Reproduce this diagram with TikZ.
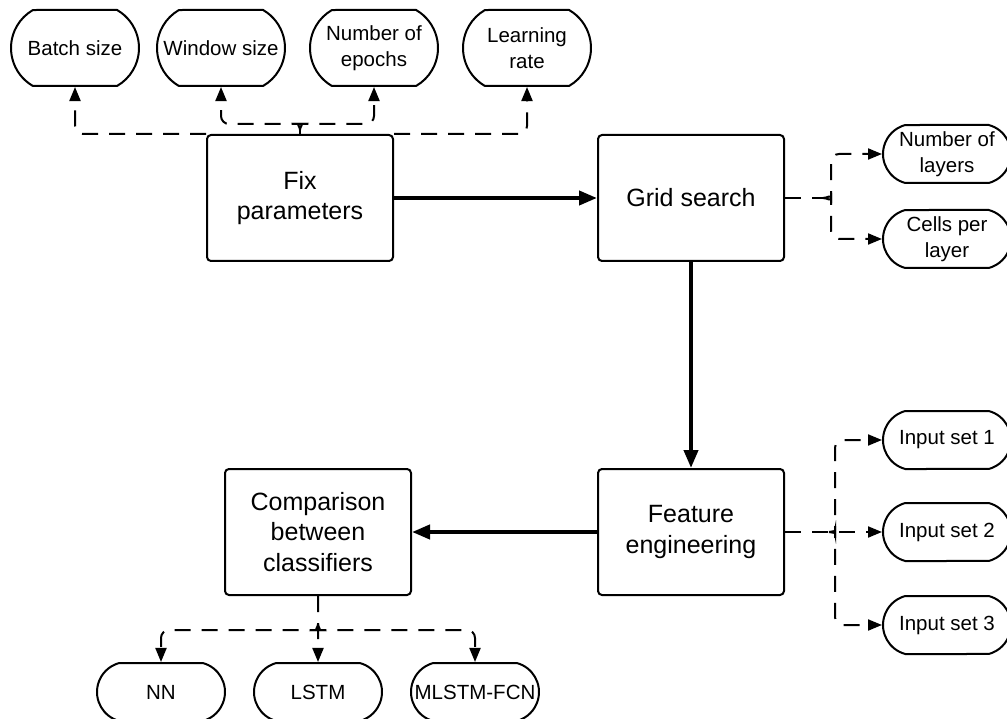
\documentclass[tikz,border=0pt]{standalone}
\usepackage{fontspec}
\setmainfont{Liberation Sans}
\usetikzlibrary{positioning, arrows.meta, shapes.misc}

\tikzset{
    stage/.style={draw, rectangle, rounded corners=4pt, line width=2pt,
        minimum width=186pt, minimum height=126pt, inner sep=2pt,
        align=center, font=\fontsize{25}{30.5}\selectfont},
    pill/.style={draw, rounded rectangle, rounded rectangle arc length=150,
        line width=2pt, minimum width=84pt, minimum height=58pt,
        inner xsep=-22pt, inner ysep=0pt,
        align=center, font=\fontsize{20.5}{26.5}\selectfont},
    tallpill/.style={pill, minimum height=76pt, rounded rectangle arc length=120},
    flow/.style={line width=4pt, -{Triangle[length=18pt, width=14pt]}},
    branch/.style={line width=2pt, dash pattern=on 16pt off 11pt,
        rounded corners=8pt, -{Triangle[length=14pt, width=11pt]}},
    stem/.style={line width=2pt, dash pattern=on 16pt off 11pt, rounded corners=8pt}
}

\begin{document}
\begin{tikzpicture}[x=1pt, y=-1pt, on grid]
    \useasboundingbox (0,0) rectangle (1007,719);

    % Main stages
    \node[stage] (fix) at (300,198) {Fix\\parameters};
    \node[stage] (grid) [right=391pt of fix] {Grid search};
    \node[stage] (feat) [below=334pt of grid] {Feature\\engineering};
    \node[stage] (comp) [left=373pt of feat] {Comparison\\between\\classifiers};

    % Fixed parameters
    \node[tallpill] (batch) [above left=150pt and 225pt of fix] {Batch size};
    \node[tallpill] (window) [right=146pt of batch] {Window size};
    \node[tallpill] (epochs) [right=153pt of window] {Number of\\epochs};
    \node[tallpill] (lrate) [right=153pt of epochs] {Learning\\rate};

    % Grid search parameters
    \node[pill] (layers) [above right=44pt and 256pt of grid] {Number of\\layers};
    \node[pill] (cells) [below=85pt of layers] {Cells per\\layer};

    % Input sets
    \node[pill] (in2) [right=256pt of feat] {Input set 2};
    \node[pill] (in1) [above=92pt of in2] {Input set 1};
    \node[pill] (in3) [below=93pt of in2] {Input set 3};

    % Classifiers
    \node[pill] (lstm) [below=160pt of comp] {LSTM};
    \node[pill] (nn) [left=157pt of lstm] {NN};
    \node[pill] (mlstm) [right=157pt of lstm] {MLSTM-FCN};

    % Main flow
    \draw[flow] (fix) -- (grid);
    \draw[flow] (grid) -- (feat);
    \draw[flow] (feat) -- (comp);

    % Branches from fix
    \draw[branch] (fix.north west) -| (batch);
    \draw[branch] (fix.north east) -| (lrate);
    \draw[stem] (fix.north) -- ([yshift=4pt]fix.north);
    \draw[branch] ([yshift=4pt]fix.north) to[out=90, in=0] ([xshift=-8pt, yshift=10pt]fix.north) -| (window);
    \draw[branch] ([yshift=4pt]fix.north) to[out=90, in=180] ([xshift=8pt, yshift=10pt]fix.north) -| (epochs);

    % Branches from grid search
    \coordinate (gj) at ([xshift=46pt]grid.east);
    \draw[stem] (grid.east) -- ([xshift=-8pt]gj);
    \draw[branch] ([xshift=-8pt]gj) to[out=0, in=-90] ([yshift=8pt]gj) |- (layers);
    \draw[branch] ([xshift=-8pt]gj) to[out=0, in=90] ([yshift=-8pt]gj) |- (cells);

    % Branches from feature engineering
    \coordinate (fj) at ([xshift=50pt]feat.east);
    \draw[branch] (feat.east) -- (in2);
    \draw[branch] ([xshift=-6pt]fj) to[out=0, in=-90] ([yshift=6pt]fj) |- (in1);
    \draw[branch] ([xshift=-6pt]fj) to[out=0, in=90] ([yshift=-6pt]fj) |- (in3);

    % Branches from comparison
    \coordinate (cj) at ([yshift=-34pt]comp.south);
    \draw[branch] (comp) -- (lstm);
    \draw[branch] ([yshift=6pt]cj) to[out=-90, in=0] ([xshift=-8pt]cj) -| (nn);
    \draw[branch] ([yshift=6pt]cj) to[out=-90, in=180] ([xshift=8pt]cj) -| (mlstm);
\end{tikzpicture}
\end{document}
